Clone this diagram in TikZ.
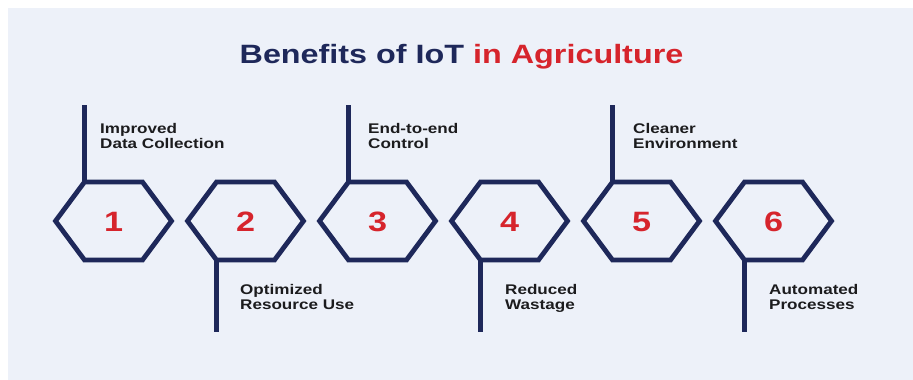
\documentclass[tikz,border=0pt]{standalone}
\usepackage{fontspec}
\setmainfont{Liberation Sans}[FakeStretch=1.22]
\definecolor{navy}{RGB}{30,40,90}
\definecolor{agred}{RGB}{214,36,44}
\definecolor{panel}{RGB}{237,241,249}
\definecolor{ink}{RGB}{28,28,30}
\begin{document}
\begin{tikzpicture}[x=1pt, y=-1pt,
		hexline/.style={draw=navy, line width=4.8pt, line join=miter},
		stem/.style={draw=navy, line width=4.8pt},
		num/.style={text=agred, anchor=base, font=\bfseries\fontsize{28}{28}\selectfont},
		lbl/.style={text=ink, anchor=north west, align=left, inner sep=0pt, font=\bfseries\fontsize{14}{15}\selectfont}]
	\useasboundingbox (0,0) rectangle (913,380);
	\fill[white] (0,0) rectangle (913,380);
	\fill[panel] (8,8) rectangle (913,380);
	\node[anchor=base, text=navy, font=\bfseries\fontsize{26.5}{30}\selectfont] (title) at (461.5,63) {Benefits of IoT \textcolor{agred}{in Agriculture}};
	% hexagons with the numbers
	\foreach \i/\cx in {1/113.5, 2/245.5, 3/377.5, 4/509.5, 5/641.5, 6/773.5} {
		\node[num] (n\i) at (\cx,231.5) {\i};
		\draw[hexline] (\cx-58,221) -- (\cx-29,182) coordinate (t\i) -- (\cx+29,182) -- (\cx+58,221) -- (\cx+29,260) -- (\cx-29,260) coordinate (b\i) -- cycle;
	}
	% stems up (odd) and down (even)
	\foreach \i in {1,3,5} \draw[stem] (t\i) -- ++(0,-77) coordinate (e\i);
	\foreach \i in {2,4,6} \draw[stem] (b\i) -- ++(0,72) coordinate (e\i);
	\node[lbl] (l1) at (100,123) {Improved\\Data Collection};
	\node[lbl] (l2) at (240,284) {Optimized\\Resource Use};
	\node[lbl] (l3) at (368,123) {End-to-end\\Control};
	\node[lbl] (l4) at (505,284) {Reduced\\Wastage};
	\node[lbl] (l5) at (633,123) {Cleaner\\Environment};
	\node[lbl] (l6) at (769,284) {Automated\\Processes};
\end{tikzpicture}
\end{document}
